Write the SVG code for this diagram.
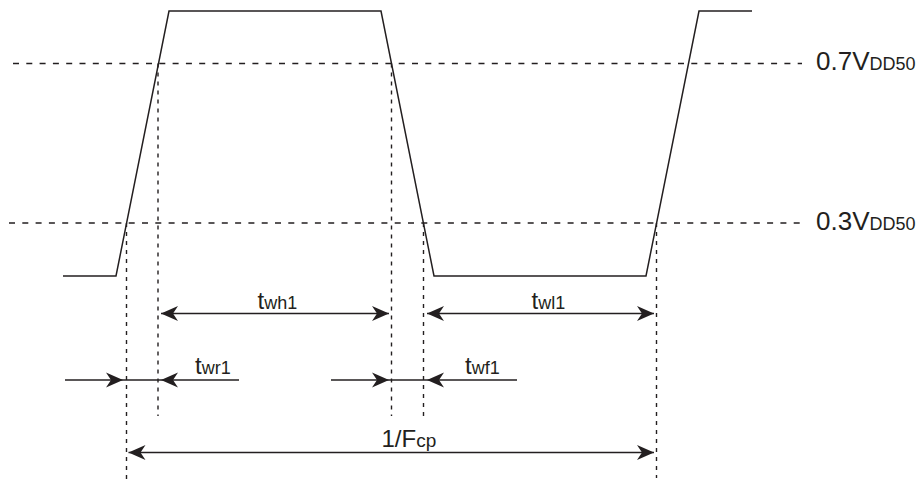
<svg xmlns="http://www.w3.org/2000/svg" width="922" height="481" viewBox="0 0 922 481">
<style>
.wave{fill:none;stroke:#231f20;stroke-width:1.5;stroke-linejoin:miter}
.hd{fill:none;stroke:#231f20;stroke-width:1.4;stroke-dasharray:6 7.3}
.vd{fill:none;stroke:#231f20;stroke-width:1.4;stroke-dasharray:4 5}
.dim{fill:none;stroke:#231f20;stroke-width:1.5}
.big{font-family:"Liberation Sans",Arial,sans-serif;fill:#231f20}
</style>
<defs>
<marker id="ah" markerUnits="userSpaceOnUse" viewBox="-18 -9 20 18" refX="0" refY="0" markerWidth="20" markerHeight="18" orient="auto-start-reverse">
<path d="M0,0 L-17,-7.5 L-12,0 L-17,7.5 Z" fill="#231f20"/>
</marker>
</defs>
<rect width="922" height="481" fill="#ffffff"/>
<g id="thresholds">
<line class="hd" x1="13" y1="63.5" x2="802" y2="63.5"/>
<line class="hd" x1="9" y1="223" x2="802" y2="223"/>
</g>
<g id="waveform">
<polyline class="wave" points="63,276 116,276 169,11 381,11 434,276 646,276 699,11 752,11"/>
</g>
<g id="guides">
<line class="vd" x1="126.5" y1="223" x2="126.5" y2="480"/>
<line class="vd" x1="158" y1="63.5" x2="158" y2="416"/>
<line class="vd" x1="391.5" y1="63.5" x2="391.5" y2="416"/>
<line class="vd" x1="423.5" y1="223" x2="423.5" y2="416"/>
<line class="vd" x1="656.5" y1="223" x2="656.5" y2="478"/>
</g>
<g id="connectors">
<line class="dim" x1="161" y1="313.5" x2="389" y2="313.5" marker-start="url(#ah)" marker-end="url(#ah)"/>
<line class="dim" x1="427" y1="313.5" x2="654" y2="313.5" marker-start="url(#ah)" marker-end="url(#ah)"/>
<line class="dim" x1="65" y1="380" x2="123" y2="380" marker-end="url(#ah)"/>
<line class="dim" x1="239" y1="380" x2="161" y2="380" marker-end="url(#ah)"/>
<line class="dim" x1="123" y1="380" x2="161" y2="380"/>
<line class="dim" x1="331" y1="380" x2="389" y2="380" marker-end="url(#ah)"/>
<line class="dim" x1="517" y1="380" x2="427" y2="380" marker-end="url(#ah)"/>
<line class="dim" x1="389" y1="380" x2="427" y2="380"/>
<line class="dim" x1="128.5" y1="452.5" x2="654" y2="452.5" marker-start="url(#ah)" marker-end="url(#ah)"/>
</g>
<g id="label-07">
<text class="big" x="816" y="69.5" font-size="26">0.7V<tspan font-size="18">DD50</tspan></text>
</g>
<g id="label-03">
<text class="big" x="816" y="230" font-size="26">0.3V<tspan font-size="18">DD50</tspan></text>
</g>
<g id="label-twh1">
<text class="big" x="257.5" y="308.5" font-size="24">t<tspan font-size="18">wh1</tspan></text>
</g>
<g id="label-twl1">
<text class="big" x="531.5" y="308.5" font-size="24">t<tspan font-size="18">wl1</tspan></text>
</g>
<g id="label-twr1">
<text class="big" x="195" y="373.5" font-size="24">t<tspan font-size="18">wr1</tspan></text>
</g>
<g id="label-twf1">
<text class="big" x="465" y="373.5" font-size="24">t<tspan font-size="18">wf1</tspan></text>
</g>
<g id="label-fcp">
<text class="big" x="381.5" y="446.5" font-size="24">1/F<tspan font-size="19">cp</tspan></text>
</g>
</svg>
